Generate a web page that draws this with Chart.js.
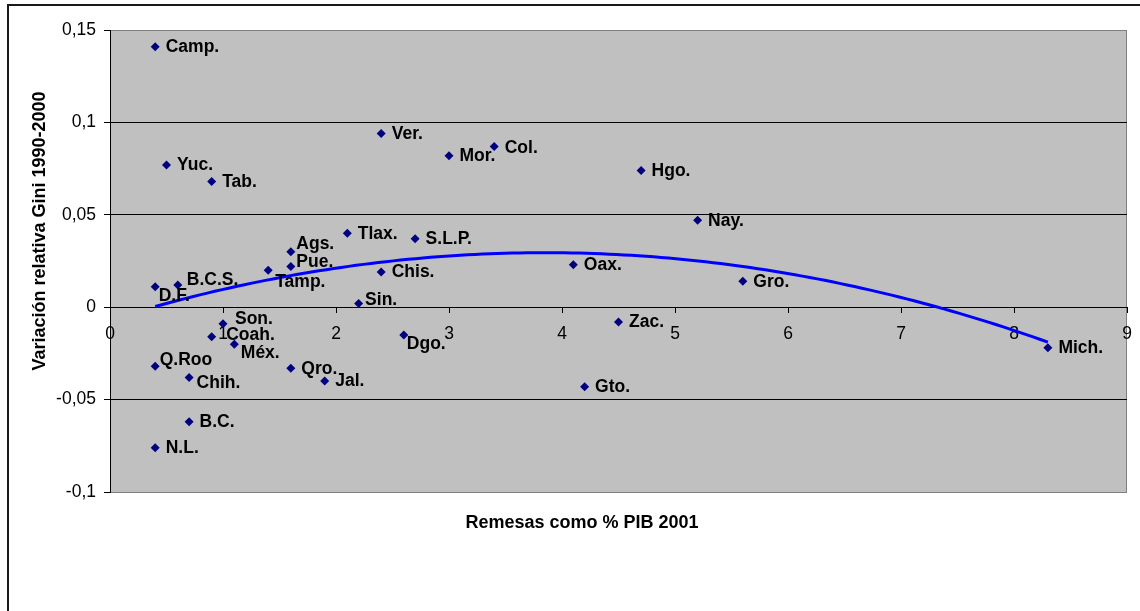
<!DOCTYPE html>
<html>
<head>
<meta charset="utf-8">
<script src="https://cdn.jsdelivr.net/npm/chart.js@4.4.1/dist/chart.umd.min.js"></script>
<style>
  html, body { margin: 0; padding: 0; background: #fff; }
  #wrap { width: 1140px; height: 611px; position: relative; }
</style>
</head>
<body>
<div id="wrap"><canvas id="c" width="1140" height="611"></canvas></div>
<script>
// ---- data ----
const states = ["Camp.","Yuc.","Tab.","Ver.","Mor.","Col.","Hgo.","Nay.","Tlax.","S.L.P.","Ags.","Pue.","Tamp.","D.F.","B.C.S.","Chis.","Oax.","Gro.","Sin.","Son.","Coah.","Méx.","Dgo.","Zac.","Q.Roo","Chih.","Qro.","Jal.","Gto.","Mich.","B.C.","N.L."];
const remesas = [0.4,0.5,0.9,2.4,3.0,3.4,4.7,5.2,2.1,2.7,1.6,1.6,1.4,0.4,0.6,2.4,4.1,5.6,2.2,1.0,0.9,1.1,2.6,4.5,0.4,0.7,1.6,1.9,4.2,8.3,0.7,0.4];
const giniVar = [0.141,0.077,0.068,0.094,0.082,0.087,0.074,0.047,0.040,0.037,0.030,0.022,0.020,0.011,0.012,0.019,0.023,0.014,0.002,-0.009,-0.016,-0.020,-0.015,-0.008,-0.032,-0.038,-0.033,-0.040,-0.043,-0.022,-0.062,-0.076];
const xTickValues = [0,1,2,3,4,5,6,7,8,9];
const yTickValues = [-0.1,-0.05,0,0.05,0.1,0.15];
const xTitle = "Remesas como % PIB 2001";
const yTitle = "Variación relativa Gini 1990-2000";

// ---- label placement (style) ----
const labelOffsets = {
  "D.F.": [3.5, 9.5], "B.C.S.": [9, -4.5], "Tamp.": [7, 12], "Ags.": [5.5, -8],
  "Pue.": [5.5, -4.5], "Sin.": [6.5, -3.5], "Son.": [12, -5], "Coah.": [14.5, -1.5],
  "Méx.": [6.5, 9], "Dgo.": [3, 9.5], "Q.Roo": [4.5, -6], "Chih.": [7.5, 5.5], "Col.": [10.5, 2]
};
const defaultOffset = [10.5, 0.5];

// ---- quadratic least-squares trend from the data ----
function quadFit(xs, ys) {
  let S = [0,0,0,0,0], T = [0,0,0];
  for (let i = 0; i < xs.length; i++) {
    const x = xs[i], y = ys[i];
    for (let k = 0; k < 5; k++) S[k] += Math.pow(x, k);
    for (let k = 0; k < 3; k++) T[k] += y * Math.pow(x, k);
  }
  const A = [[S[0],S[1],S[2],T[0]],[S[1],S[2],S[3],T[1]],[S[2],S[3],S[4],T[2]]];
  for (let i = 0; i < 3; i++) {
    for (let j = i + 1; j < 3; j++) {
      const f = A[j][i] / A[i][i];
      for (let k = i; k < 4; k++) A[j][k] -= f * A[i][k];
    }
  }
  const c = [0,0,0];
  for (let i = 2; i >= 0; i--) {
    let s = A[i][3];
    for (let k = i + 1; k < 3; k++) s -= A[i][k] * c[k];
    c[i] = s / A[i][i];
  }
  return c;
}
const coef = quadFit(remesas, giniVar);
const xMin = Math.min(...remesas), xMax = Math.max(...remesas);
const trend = [];
for (let i = 0; i <= 120; i++) {
  const x = xMin + (xMax - xMin) * i / 120;
  trend.push({ x: x, y: coef[0] + coef[1] * x + coef[2] * x * x });
}

const FONT = "'Liberation Sans', Arial, sans-serif";

const decor = {
  id: 'decor',
  beforeDraw(chart) {
    const { ctx, chartArea: a } = chart;
    ctx.save();
    ctx.fillStyle = '#fff';
    ctx.fillRect(0, 0, chart.width, chart.height);
    ctx.strokeStyle = '#1a1a1a';
    ctx.lineWidth = 2;
    ctx.strokeRect(8, 5, chart.width + 20, chart.height + 20);
    ctx.fillStyle = '#c0c0c0';
    ctx.fillRect(a.left, a.top, a.right - a.left, a.bottom - a.top);
    ctx.strokeStyle = '#808080';
    ctx.lineWidth = 1;
    ctx.strokeRect(a.left + 0.5, a.top + 0.5, a.right - a.left - 1, a.bottom - a.top);
    ctx.restore();
  },
  afterDatasetsDraw(chart) {
    const { ctx } = chart;
    const meta = chart.getDatasetMeta(1);
    ctx.save();
    ctx.font = "bold 17.5px " + FONT;
    ctx.fillStyle = '#000';
    ctx.textAlign = 'left';
    ctx.textBaseline = 'middle';
    meta.data.forEach((el, i) => {
      const name = states[i];
      const off = labelOffsets[name] || defaultOffset;
      ctx.fillText(name, el.x + off[0], el.y + off[1]);
    });
    ctx.restore();
  },
  afterDraw(chart) {
    const { ctx } = chart;
    ctx.save();
    ctx.fillStyle = '#000';
    ctx.font = "bold 18px " + FONT;
    ctx.textAlign = 'center';
    ctx.textBaseline = 'middle';
    ctx.fillText(xTitle, 582, 523);
    ctx.translate(40, 231);
    ctx.rotate(-Math.PI / 2);
    ctx.fillText(yTitle, 0, 0);
    ctx.restore();
  }
};

new Chart(document.getElementById('c'), {
  type: 'scatter',
  data: {
    datasets: [
      {
        type: 'line',
        data: trend,
        borderColor: '#0000ff',
        borderWidth: 3,
        pointRadius: 0,
        fill: false,
        tension: 0
      },
      {
        data: remesas.map((x, i) => ({ x: x, y: giniVar[i] })),
        pointStyle: 'rectRot',
        pointRadius: 4.5,
        backgroundColor: '#000080',
        borderColor: '#000080',
        borderWidth: 0
      }
    ]
  },
  options: {
    responsive: false,
    animation: false,
    devicePixelRatio: 1,
    layout: { padding: { left: 0, top: 30, right: 13, bottom: 119 } },
    plugins: { legend: { display: false }, tooltip: { enabled: false } },
    scales: {
      x: {
        type: 'linear',
        min: 0, max: 9,
        position: { y: 0 },
        afterBuildTicks(s) { s.ticks = xTickValues.map(v => ({ value: v })); },
        afterFit(s) { s.paddingLeft = 0; s.paddingRight = 0; },
        ticks: { font: { family: FONT, size: 17.5 }, color: '#000', padding: 11, maxRotation: 0, autoSkip: false },
        grid: { drawOnChartArea: false, drawTicks: true, tickLength: 5, color: '#000', tickColor: '#000' },
        border: { display: true, color: '#000', width: 1 }
      },
      y: {
        type: 'linear',
        min: -0.1, max: 0.15,
        afterBuildTicks(s) { s.ticks = yTickValues.map(v => ({ value: v })); },
        afterFit(s) { s.width = 110; s.paddingTop = 0; s.paddingBottom = 0; },
        ticks: {
          font: { family: FONT, size: 17.5 }, color: '#000', padding: 8,
          callback: v => String(Math.round(v * 100) / 100).replace('.', ',')
        },
        grid: {
          tickLength: 6,
          color: c => (c.tick && (Math.abs(c.tick.value - 0.15) < 1e-9 || Math.abs(c.tick.value + 0.1) < 1e-9)) ? '#808080' : '#000',
          tickColor: '#000'
        },
        border: { display: true, color: '#000', width: 1 }
      }
    }
  },
  plugins: [decor]
});
</script>
</body>
</html>
